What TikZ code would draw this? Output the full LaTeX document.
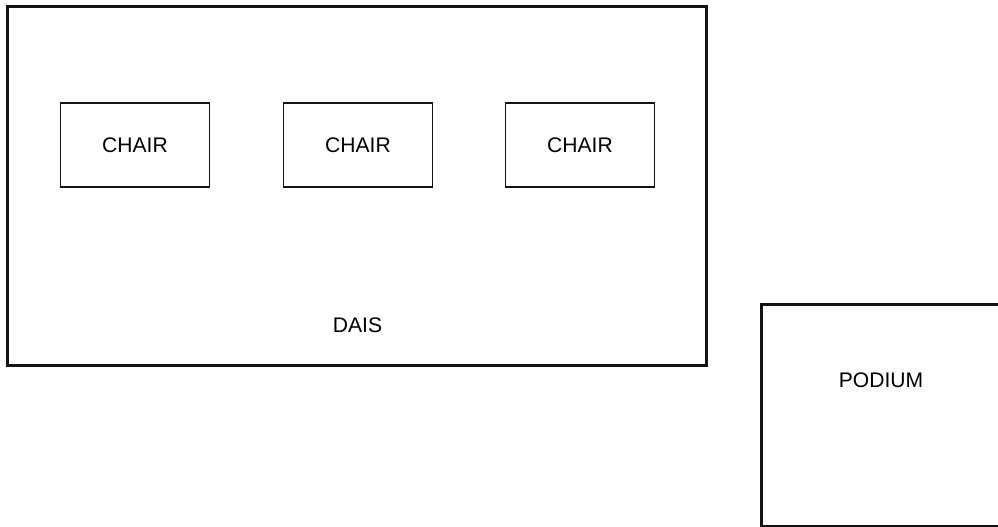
\documentclass[tikz,border=0pt]{standalone}
\usepackage{fontspec}
\setmainfont{Liberation Sans}
\usepackage{tikz}
\usetikzlibrary{positioning}
\definecolor{myline}{RGB}{20,20,20}
\tikzset{
  daisbox/.style={draw=myline, line width=1.7pt, minimum width=14cm, minimum height=7.19cm, inner sep=0pt},
  chairbox/.style={draw=myline, line width=0.6pt, minimum width=2.98cm, minimum height=1.68cm, inner sep=0pt, font=\fontsize{12}{14}\selectfont},
  podiumbox/.style={draw=myline, line width=1.7pt, minimum width=5cm, minimum height=4.44cm, inner sep=0pt},
  tag/.style={font=\fontsize{12}{14}\selectfont, inner sep=0pt}
}

\begin{document}
\begin{tikzpicture}[x=0.02cm, y=-0.02cm]
            \useasboundingbox (0,0) rectangle (998,527);
            \node[daisbox] (dais) at (357,186) {};
            \node[chairbox] (chairA) at (135,145) {CHAIR};
            \node[chairbox] (chairB) at (358,145) {CHAIR};
            \node[chairbox] (chairC) at (580,145) {CHAIR};
            \node[tag] (daislabel) at (357.5,325.5) {DAIS};
            \node[podiumbox, anchor=north west] (podium) at (760,303) {};
            \node[tag] (podiumlabel) at (881,380) {PODIUM};
        \end{tikzpicture}
\end{document}
